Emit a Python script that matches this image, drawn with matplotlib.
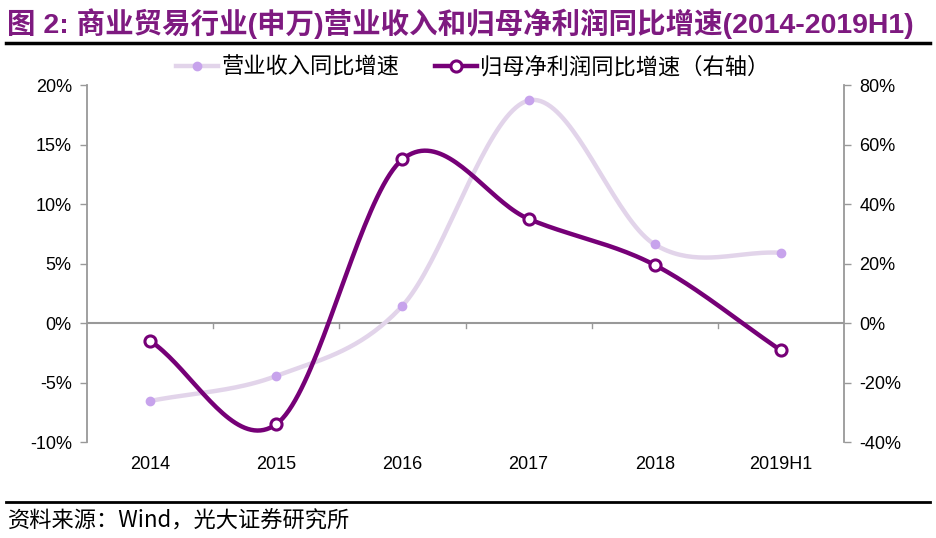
import numpy as np
import matplotlib
matplotlib.use("Agg")
import matplotlib.pyplot as plt
from matplotlib.lines import Line2D

categories = ["2014", "2015", "2016", "2017", "2018", "2019H1"]
revenue_growth = [-6.55, -4.45, 1.45, 18.7, 6.6, 5.9]        # left axis, %
profit_growth = [-6.0, -34.0, 55.0, 35.0, 19.5, -9.2]         # right axis, %
left_ticks = [-10, -5, 0, 5, 10, 15, 20]
right_ticks = [-40, -20, 0, 20, 40, 60, 80]

title = "图 2: 商业贸易行业(申万)营业收入和归母净利润同比增速(2014-2019H1)"
legend_labels = ["营业收入同比增速", "归母净利润同比增速（右轴）"]
source = "资料来源：Wind，光大证券研究所"

FAM = ["Liberation Sans", "Noto Sans CJK SC", "DejaVu Sans"]
FAM_CJK = ["Noto Sans CJK SC", "Liberation Sans", "DejaVu Sans"]
plt.rcParams["font.family"] = FAM


def smooth(x, y, n=40):
    """Catmull-Rom spline through the points (Excel-like smoothing)."""
    x = np.asarray(x, float)
    y = np.asarray(y, float)
    px = np.concatenate([[2 * x[0] - x[1]], x, [2 * x[-1] - x[-2]]])
    py = np.concatenate([[2 * y[0] - y[1]], y, [2 * y[-1] - y[-2]]])
    xs, ys = [], []
    for i in range(1, len(px) - 2):
        t = np.linspace(0, 1, n, endpoint=False)
        for arr, out in ((px, xs), (py, ys)):
            p0, p1, p2, p3 = arr[i - 1], arr[i], arr[i + 1], arr[i + 2]
            out.append(0.5 * ((2 * p1) + (-p0 + p2) * t
                              + (2 * p0 - 5 * p1 + 4 * p2 - p3) * t ** 2
                              + (-p0 + 3 * p1 - 3 * p2 + p3) * t ** 3))
    xs.append([x[-1]])
    ys.append([y[-1]])
    return np.concatenate(xs), np.concatenate(ys)


fig = plt.figure(figsize=(9.36, 5.38), dpi=100)
ax = fig.add_axes([0.093, 0.1784, 0.8087, 0.6636])
ax2 = ax.twinx()

x = np.arange(len(categories))
light_line = "#E2D4EA"
light_mark = "#C7A3EC"
dark = "#760077"
grey = "#999999"

sx, sy = smooth(x, revenue_growth)
ax.plot(sx, sy, color=light_line, lw=3.2, solid_capstyle="round", zorder=2)
ax.plot(x, revenue_growth, ls="none", marker="o", ms=6, color=light_mark, zorder=3)

sx2, sy2 = smooth(x, profit_growth)
ax2.plot(sx2, sy2, color=dark, lw=3.2, solid_capstyle="round", zorder=2)
ax2.plot(x, profit_growth, ls="none", marker="o", ms=8, mfc="white", mec=dark, mew=2.2, zorder=3)

ax.set_xlim(-0.5, len(categories) - 0.5)
ax.set_ylim(-10, 20)
ax2.set_ylim(-40, 80)
ax.set_yticks(left_ticks)
ax.set_yticklabels([f"{v}%" for v in left_ticks])
ax2.set_yticks(right_ticks)
ax2.set_yticklabels([f"{v}%" for v in right_ticks])

ax.set_xticks(x)
ax.set_xticklabels(categories)
ax.tick_params(axis="x", length=0, pad=10, labelsize=13)
ax.axhline(0, color=grey, lw=1.5, zorder=1)

for a in (ax, ax2):
    for s in a.spines.values():
        s.set_visible(False)
ax.spines["left"].set_visible(True)
ax.spines["left"].set_color(grey)
ax.spines["left"].set_linewidth(1.3)
ax2.spines["right"].set_visible(True)
ax2.spines["right"].set_color(grey)
ax2.spines["right"].set_linewidth(1.3)
ax.tick_params(axis="y", length=5, color=grey, width=1, labelsize=13, pad=6)
ax2.tick_params(axis="y", length=5, color=grey, width=1, labelsize=13, pad=6)

# small ticks on the zero line at category boundaries
for b in np.arange(0.5, len(categories) - 0.5, 1):
    ax.plot([b, b], [0, -0.45], color=grey, lw=1, zorder=1, clip_on=False)

handles = [
    Line2D([0], [0], color=light_line, lw=3.2, marker="o", ms=6, mfc=light_mark, mec=light_mark),
    Line2D([0], [0], color=dark, lw=3.2, marker="o", ms=8, mfc="white", mec=dark, mew=2.2),
]
fig.legend(handles, legend_labels, loc="center", bbox_to_anchor=(0.505, 0.875), ncol=2,
           frameon=False, prop={"family": FAM_CJK, "size": 16}, handlelength=1.9,
           handletextpad=0.15, columnspacing=1.6)

fig.text(0.008, 0.957, title, fontsize=20.5, fontweight="bold", color="#7E1A80",
         family=FAM, va="center", ha="left")
fig.add_artist(Line2D([0.006, 0.994], [0.921, 0.921], color="black", lw=2.5))
fig.add_artist(Line2D([0.006, 0.994], [0.067, 0.067], color="black", lw=2))
fig.text(0.008, 0.032, source, fontsize=16, color="black", family=FAM_CJK, va="center", ha="left")

fig.savefig("out.png", dpi=100)
